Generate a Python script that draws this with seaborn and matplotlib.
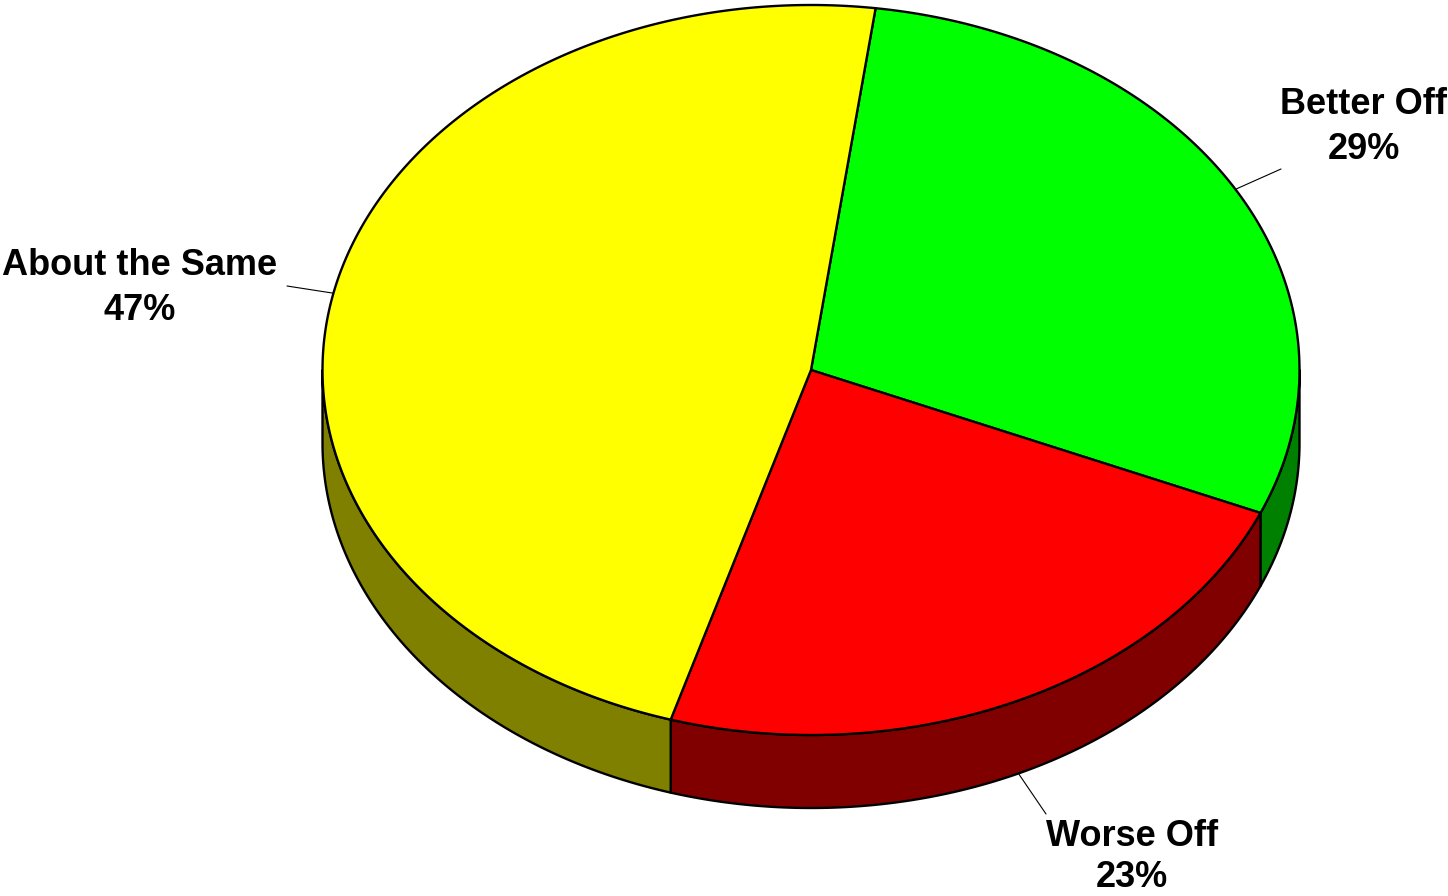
import numpy as np
import matplotlib
matplotlib.use("Agg")
import matplotlib.pyplot as plt
from matplotlib.patches import Polygon
import seaborn as sns

# data
labels = ["Better Off", "Worse Off", "About the Same"]
values = [29, 23, 47]
pct_text = ["29%", "23%", "47%"]
top_colors = ["#00FF00", "#FF0000", "#FFFF00"]
side_colors = ["#008000", "#800000", "#808000"]

sns.set_theme(style="white")
plt.rcParams['font.family'] = ['Liberation Sans', 'DejaVu Sans']

# 3d pie geometry (pixel space)
cx, cy = 811, 370
a, b = 488.5, 365
depth = 73
start = 82.4

# label layout: text centre x, first baseline, line gap, leader end point
label_pos = {
    "Better Off": (1364, 114, 45, (1281, 169)),
    "Worse Off": (1132, 846, 41, (1046, 814)),
    "About the Same": (140, 275, 45, (287, 286)),
}


def ell(t, dz=0.0):
    t = np.radians(t)
    return cx + a * np.cos(t), cy - b * np.sin(t) + dz


fig = plt.figure(figsize=(14.48, 8.96), dpi=100)
ax = fig.add_axes([0, 0, 1, 1])
ax.set_xlim(0, 1448)
ax.set_ylim(896, 0)
ax.axis("off")

fracs = np.array(values, dtype=float) / sum(values)
angles = []
hi = start
for f in fracs:
    lo = hi - f * 360
    angles.append((lo, hi))
    hi = lo

# side walls (front half only)
for (lo, hi), col in zip(angles, side_colors):
    for k in (-1, 0, 1):
        s0 = max(lo, -180 + 360 * k)
        s1 = min(hi, 360 * k)
        if s1 <= s0:
            continue
        t = np.linspace(s0, s1, 200)
        xt, yt = ell(t)
        xb, yb = ell(t[::-1], depth)
        pts = np.column_stack([np.r_[xt, xb], np.r_[yt, yb]])
        ax.add_patch(Polygon(pts, closed=True, facecolor=col, edgecolor="black",
                             lw=1.7, joinstyle="round", zorder=1))

# top faces
for (lo, hi), col in zip(angles, top_colors):
    t = np.linspace(lo, hi, 400)
    xt, yt = ell(t)
    pts = np.column_stack([np.r_[cx, xt], np.r_[cy, yt]])
    ax.add_patch(Polygon(pts, closed=True, facecolor=col, edgecolor="black",
                         lw=1.7, joinstyle="round", zorder=2))

# labels with leader lines
for lab, pct, (lo, hi) in zip(labels, pct_text, angles):
    mid = (lo + hi) / 2
    dz = depth if np.sin(np.radians(mid)) < 0 else 0
    x0, y0 = ell(mid, dz)
    tx, base, gap, (lx, ly) = label_pos[lab]
    ax.plot([x0, lx], [y0, ly], color="black", lw=0.8, zorder=3)
    ax.text(tx, base, lab, ha="center", va="baseline", fontsize=26,
            fontweight="bold", color="black", zorder=4)
    ax.text(tx, base + gap, pct, ha="center", va="baseline", fontsize=26,
            fontweight="bold", color="black", zorder=4)

fig.savefig("out.png", dpi=100, facecolor="white")
